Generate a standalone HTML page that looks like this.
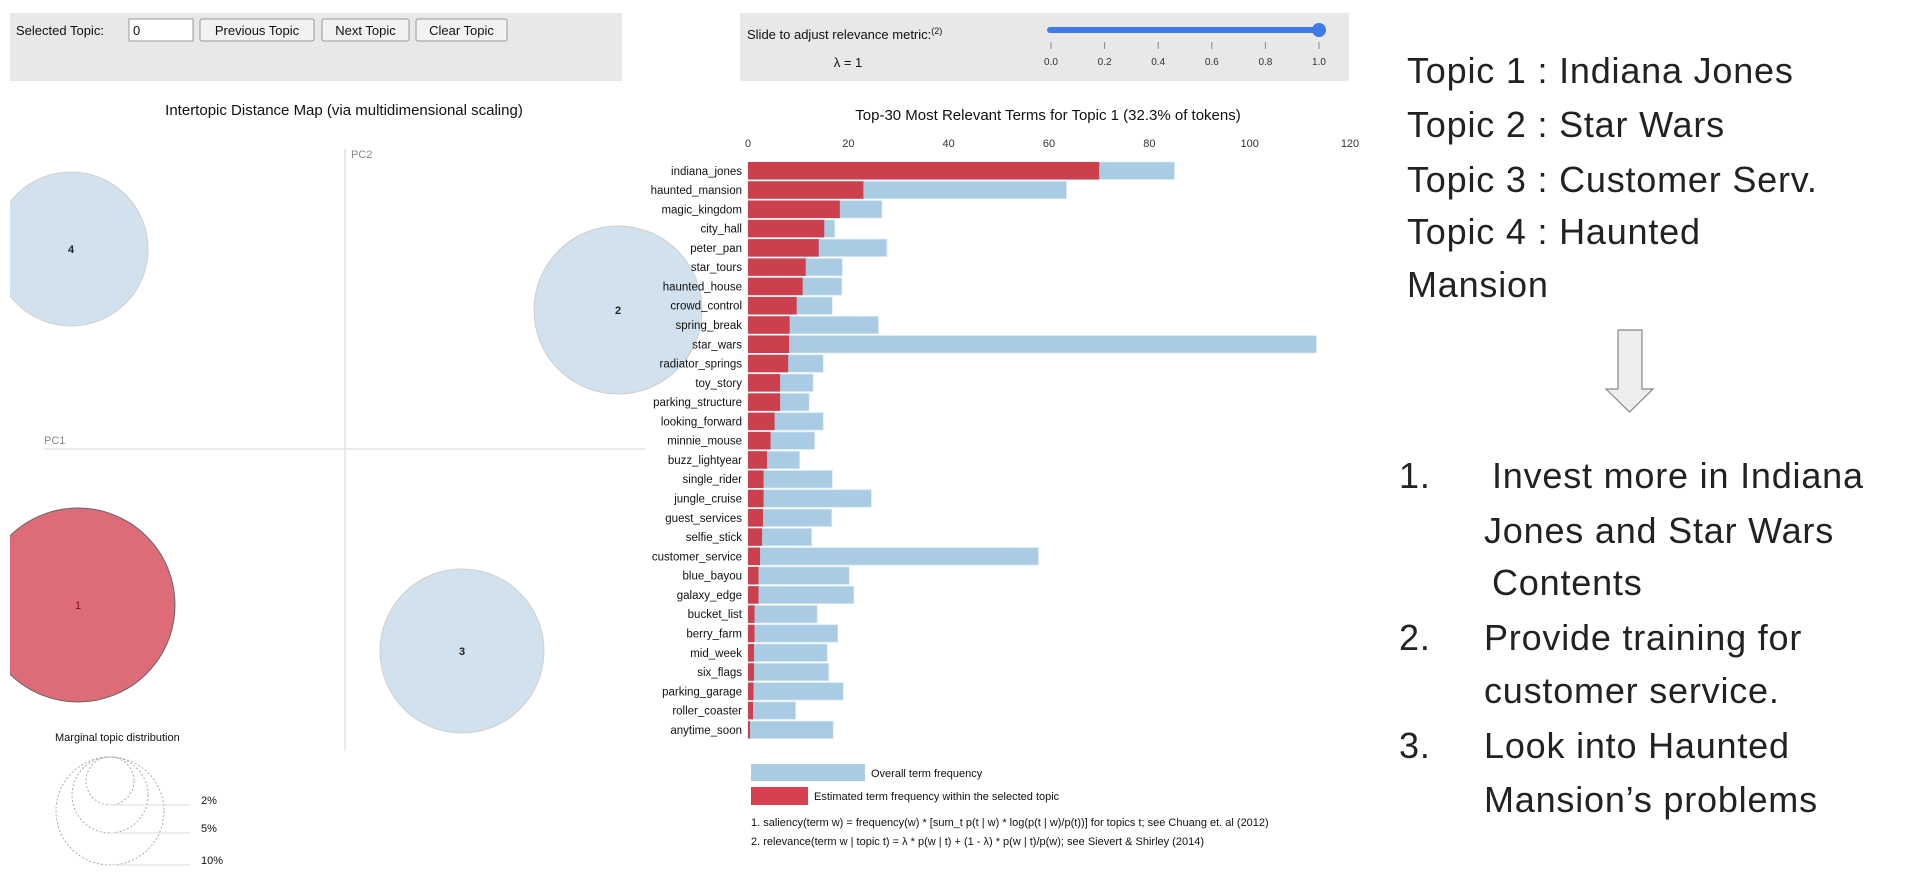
<!DOCTYPE html>
<html><head><meta charset="utf-8">
<style>
html,body{margin:0;padding:0;background:#fff;}
svg{display:block;font-family:"Liberation Sans",sans-serif;}
</style></head>
<body>
<svg id="root" width="1908" height="874" viewBox="0 0 1908 874" xmlns="http://www.w3.org/2000/svg">
  <defs><clipPath id="mapclip"><rect x="10" y="90" width="720" height="784"/></clipPath></defs>
  <rect x="10" y="13" width="612" height="68" fill="#e8e8e8"/>
  <text x="16" y="35" font-size="13" fill="#111">Selected Topic:</text>
  <rect x="129" y="19" width="64" height="22" fill="#fff" stroke="#999"/>
  <text x="133" y="35" font-size="13" fill="#111">0</text>
  <g><rect x="200" y="19" width="114" height="22" rx="2" fill="#f2f2f2" stroke="#999"/><text x="257" y="35" font-size="13" text-anchor="middle" fill="#111">Previous Topic</text></g>
  <g><rect x="322" y="19" width="87" height="22" rx="2" fill="#f2f2f2" stroke="#999"/><text x="365.5" y="35" font-size="13" text-anchor="middle" fill="#111">Next Topic</text></g>
  <g><rect x="416" y="19" width="91" height="22" rx="2" fill="#f2f2f2" stroke="#999"/><text x="461.5" y="35" font-size="13" text-anchor="middle" fill="#111">Clear Topic</text></g>

  <rect x="740" y="13" width="609" height="68" fill="#e8e8e8"/>
  <text x="747" y="39" font-size="13" fill="#111">Slide to adjust relevance metric:<tspan font-size="9" dy="-5">(2)</tspan></text>
  <text x="848" y="67" font-size="13" text-anchor="middle" fill="#111">λ = 1</text>
  <line x1="1050" y1="30" x2="1319" y2="30" stroke="#3f7be8" stroke-width="6" stroke-linecap="round"/>
  <circle cx="1319" cy="30" r="7" fill="#3f7be8"/>
  <g id="slidertick" font-size="10" fill="#333" text-anchor="middle"></g>

  <text x="344" y="115" font-size="15" text-anchor="middle" fill="#111">Intertopic Distance Map (via multidimensional scaling)</text>
  <line x1="345" y1="149" x2="345" y2="751" stroke="#e3e3e3" stroke-width="1.5"/>
  <line x1="44" y1="449" x2="645" y2="449" stroke="#e3e3e3" stroke-width="1.5"/>
  <text x="351" y="158" font-size="11" fill="#888">PC2</text>
  <text x="44" y="444" font-size="11" fill="#888">PC1</text>
  <g clip-path="url(#mapclip)">
    <g><circle cx="71" cy="249" r="77" fill="#d1e1ed" stroke="#cfcfcf"/><text x="71" y="253" font-size="11" font-weight="bold" text-anchor="middle" fill="#222">4</text></g>
    <g><circle cx="618" cy="310" r="84" fill="#d1e1ed" stroke="#cfcfcf"/><text x="618" y="314" font-size="11" font-weight="bold" text-anchor="middle" fill="#222">2</text></g>
    <g><circle cx="78" cy="605" r="97" fill="#de6c78" stroke="#666"/><text x="78" y="609" font-size="11" text-anchor="middle" fill="#8b0a1a">1</text></g>
    <g><circle cx="462" cy="651" r="82" fill="#d1e1ed" stroke="#cfcfcf"/><text x="462" y="655" font-size="11" font-weight="bold" text-anchor="middle" fill="#222">3</text></g>
  </g>
  <text x="55" y="741" font-size="11" fill="#111">Marginal topic distribution</text>
  <g fill="none" stroke="#aaa" stroke-dasharray="2,2">
    <circle cx="110" cy="781" r="24"/><circle cx="110" cy="795" r="38"/><circle cx="110" cy="811" r="54"/>
  </g>
  <g stroke="#ddd"><line x1="110" y1="805" x2="190" y2="805"/><line x1="110" y1="833" x2="190" y2="833"/><line x1="110" y1="865" x2="190" y2="865"/></g>
  <g font-size="11" fill="#111"><text x="201" y="804">2%</text><text x="201" y="832">5%</text><text x="201" y="864">10%</text></g>

  <text x="1048" y="120" font-size="15" text-anchor="middle" fill="#111">Top-30 Most Relevant Terms for Topic 1 (32.3% of tokens)</text>
  <g id="xaxis" font-size="11" fill="#333" text-anchor="middle"></g>
  <g id="bars"></g>
  <rect x="751" y="764" width="114" height="17" fill="#a9cbe3"/>
  <text x="871" y="777" font-size="11" fill="#111">Overall term frequency</text>
  <rect x="751" y="787" width="57" height="18" fill="#d7404e"/>
  <text x="814" y="800" font-size="11" fill="#111">Estimated term frequency within the selected topic</text>
  <text x="751" y="826" font-size="11" fill="#111">1. saliency(term w) = frequency(w) * [sum_t p(t | w) * log(p(t | w)/p(t))] for topics t; see Chuang et. al (2012)</text>
  <text x="751" y="845" font-size="11" fill="#111">2. relevance(term w | topic t) = λ * p(w | t) + (1 - λ) * p(w | t)/p(w); see Sievert &amp; Shirley (2014)</text>

  <g font-size="36" fill="#222" letter-spacing="0.8">
    <text x="1407" y="83">Topic 1 : Indiana Jones</text>
    <text x="1407" y="137">Topic 2 : Star Wars</text>
    <text x="1407" y="192">Topic 3 : Customer Serv.</text>
    <text x="1407" y="244">Topic 4 : Haunted</text>
    <text x="1407" y="297">Mansion</text>
  </g>
  <polygon points="1618,330 1642,330 1642,389 1653,389 1629.5,412 1606,389 1618,389" fill="#eee" stroke="#888" stroke-width="1.2"/>
  <g font-size="36" fill="#222" letter-spacing="0.8">
    <text x="1399" y="488">1.</text><text x="1492" y="488">Invest more in Indiana</text>
    <text x="1484" y="543">Jones and Star Wars</text>
    <text x="1492" y="595">Contents</text>
    <text x="1399" y="650">2.</text><text x="1484" y="650">Provide training for</text>
    <text x="1484" y="703">customer service.</text>
    <text x="1399" y="758">3.</text><text x="1484" y="758">Look into Haunted</text>
    <text x="1484" y="812">Mansion’s problems</text>
  </g>
</svg>
<script>
const terms = ["indiana_jones","haunted_mansion","magic_kingdom","city_hall","peter_pan","star_tours","haunted_house","crowd_control","spring_break","star_wars","radiator_springs","toy_story","parking_structure","looking_forward","minnie_mouse","buzz_lightyear","single_rider","jungle_cruise","guest_services","selfie_stick","customer_service","blue_bayou","galaxy_edge","bucket_list","berry_farm","mid_week","six_flags","parking_garage","roller_coaster","anytime_soon"];
const overallFreq = [85,63.5,26.7,17.3,27.7,18.8,18.7,16.8,26,113.3,15,13,12.2,15,13.3,10.3,16.8,24.6,16.7,12.7,57.9,20.2,21.1,13.8,17.9,15.8,16.1,19,9.5,17];
const topicFreq = [70,23,18.3,15.2,14.1,11.5,10.9,9.7,8.3,8.2,8,6.4,6.4,5.3,4.5,3.8,3.1,3.1,3,2.8,2.4,2.1,2.1,1.3,1.3,1.2,1.2,1.1,1,0.4];
const xTicks = [0,20,40,60,80,100,120];
const sliderTicks = ["0.0","0.2","0.4","0.6","0.8","1.0"];

const NS = "http://www.w3.org/2000/svg";
const x0 = 748, xMax = 120, xW = 602;
function xs(v){ return x0 + v / xMax * xW; }
const y0 = 162, step = 19.28, bh = 17.5;
function ys(i){ return y0 + i * step; }
function mk(tag, attrs, parent){ const e = document.createElementNS(NS, tag); for (const k in attrs) e.setAttribute(k, attrs[k]); parent.appendChild(e); return e; }

const xa = document.getElementById("xaxis");
xTicks.forEach(t => {
  const tx = mk("text", {x: xs(t), y: 147}, xa);
  tx.textContent = t;
  
  
});

const st = document.getElementById("slidertick");
sliderTicks.forEach((s, i) => {
  const sx = 1051 + i * (1319 - 1051) / (sliderTicks.length - 1);
  const ln = mk("line", {x1: sx, y1: 42, x2: sx, y2: 49, stroke: "#888"}, st);
  
  
  const tx = mk("text", {x: sx, y: 65}, st);
  tx.textContent = s;
  
  
});

const bars = document.getElementById("bars");
terms.forEach((t, i) => {
  const y = ys(i);
  const lab = mk("text", {x: 742, y: y + bh/2 + 4, "font-size": 11.5, "text-anchor": "end", fill: "#111"}, bars);
  lab.textContent = t;
  
  
  const b1 = mk("rect", {x: xs(0), y: y, width: xs(overallFreq[i]) - xs(0), height: bh, fill: "#a9cbe3", stroke: "#dbe9f3", "stroke-width": 0.8}, bars);
  
  
  const b2 = mk("rect", {x: xs(0), y: y, width: xs(topicFreq[i]) - xs(0), height: bh, fill: "#cc3f4d"}, bars);
  
  
});
</script>
</body></html>
